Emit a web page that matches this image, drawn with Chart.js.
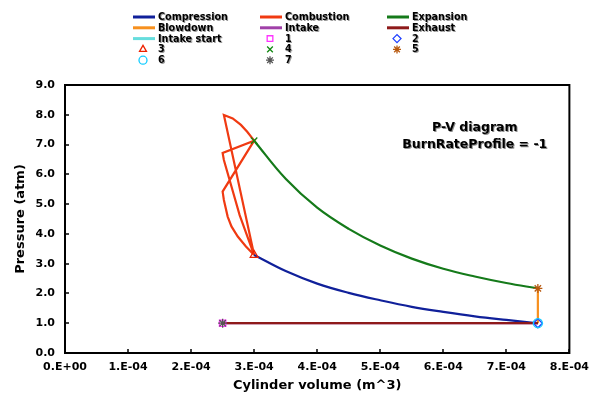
<!DOCTYPE html>
<html lang="en">
<head>
  <meta charset="UTF-8" />
  <title>P-V diagram</title>
  <script src="https://cdn.jsdelivr.net/npm/chart.js"></script>
  <style>
    html, body { margin: 0; padding: 0; background: #fff; }
    #wrap { width: 597px; height: 398px; position: relative; }
  </style>
</head>
<body>
<div id="wrap"><canvas id="pv"></canvas></div>
<script>
  // volumes in m^3, pressures in atm
  const compressionV = [7.5e-4, 7.0e-4, 6.5e-4, 6.0e-4, 5.5e-4, 5.0e-4, 4.5e-4, 4.0e-4, 3.5e-4, 3.0e-4];
  const compressionP = [1.0, 1.11, 1.23, 1.38, 1.55, 1.77, 2.02, 2.33, 2.75, 3.29];

  const combustionV = [3.0e-4, 2.87e-4, 2.74e-4, 2.64e-4, 2.58e-4, 2.52e-4, 2.50e-4, 3.0e-4, 2.50e-4, 2.52e-4, 2.77e-4, 3.0e-4, 2.52e-4, 2.66e-4, 2.79e-4, 2.89e-4, 3.0e-4];
  const combustionP = [3.29, 3.58, 3.91, 4.25, 4.58, 5.14, 5.42, 7.13, 6.72, 6.48, 4.63, 3.29, 7.99, 7.88, 7.66, 7.43, 7.13];

  const expansionV = [3.0e-4, 3.5e-4, 4.0e-4, 4.5e-4, 5.0e-4, 5.5e-4, 6.0e-4, 6.5e-4, 7.0e-4, 7.5e-4];
  const expansionP = [7.13, 5.85, 4.88, 4.17, 3.61, 3.17, 2.83, 2.57, 2.35, 2.17];

  const blowdownV = [7.5e-4, 7.5e-4];
  const blowdownP = [2.17, 1.0];

  const intakeV = [2.5e-4, 7.5e-4];
  const intakeP = [1.0, 1.0];
  const exhaustV = [7.5e-4, 2.5e-4];
  const exhaustP = [1.0, 1.0];
  const intakeStartV = [2.5e-4];
  const intakeStartP = [1.0];

  const pointLabels = ['1', '2', '3', '4', '5', '6', '7'];
  const pointV = [2.5e-4, 7.5e-4, 3.0e-4, 3.0e-4, 7.5e-4, 7.5e-4, 2.5e-4];
  const pointP = [1.0, 1.0, 3.29, 7.13, 2.17, 1.0, 1.0];

  const xTicks = [0, 1e-4, 2e-4, 3e-4, 4e-4, 5e-4, 6e-4, 7e-4, 8e-4];
  const yTicks = [0, 1, 2, 3, 4, 5, 6, 7, 8, 9];

  const FONT = '"DejaVu Sans", Verdana, sans-serif';

  function pts(vs, ps) { return vs.map((v, i) => ({ x: v, y: ps[i] })); }

  function lineSet(label, vs, ps, color, extra) {
    return Object.assign({ label, data: pts(vs, ps), borderColor: color, backgroundColor: color,
      borderWidth: 2.2, pointRadius: 0, showLine: true, tension: 0, isLine: true }, extra || {});
  }

  const pointStyles = [
    { style: 'rect', color: '#ff33ff' },
    { style: 'rectRot', color: '#1f3fff' },
    { style: 'triangle', color: '#ee2200' },
    { style: 'crossRot', color: '#118811' },
    { style: 'star', color: '#b85a10' },
    { style: 'circle', color: '#11ccff' },
    { style: 'star', color: '#555555' }
  ];

  const datasets = [
    lineSet('Compression', compressionV, compressionP, '#10209a', { tension: 0.4 }),
    lineSet('Combustion', combustionV, combustionP, '#f03a12'),
    lineSet('Expansion', expansionV, expansionP, '#157a1a', { tension: 0.4 }),
    lineSet('Blowdown', blowdownV, blowdownP, '#f7901e'),
    lineSet('Intake', intakeV, intakeP, '#a040a8'),
    lineSet('Exhaust', exhaustV, exhaustP, '#8e1a1a', { order: -1 }),
    lineSet('Intake start', intakeStartV, intakeStartP, '#66dddd')
  ];
  pointLabels.forEach((lab, i) => {
    const s = pointStyles[i];
    datasets.push({ label: lab, data: [{ x: pointV[i], y: pointP[i] }], showLine: false,
      pointStyle: s.style, pointRadius: 4.5, borderColor: s.color, borderWidth: 1.3,
      backgroundColor: 'rgba(0,0,0,0)', pointBackgroundColor: 'rgba(0,0,0,0)',
      order: -10 - i, isLine: false });
  });

  function sciLabel(v) {
    if (v === 0) return '0.E+00';
    const e = Math.floor(Math.log10(Math.abs(v)) + 1e-9);
    const m = Math.round(v / Math.pow(10, e));
    const sign = e < 0 ? '-' : '+';
    return m + '.E' + sign + String(Math.abs(e)).padStart(2, '0');
  }

  // grid legend + frame + inside ticks + in-plot title
  const decor = {
    id: 'decor',
    afterDraw(chart) {
      const ctx = chart.ctx;
      const a = chart.chartArea;
      const xs = chart.scales.x, ys = chart.scales.y;
      ctx.save();
      // frame
      ctx.strokeStyle = '#000';
      ctx.lineWidth = 2;
      ctx.strokeRect(a.left, a.top, a.right - a.left, a.bottom - a.top);
      ctx.lineWidth = 1.5;
      xTicks.forEach(t => {
        const px = Math.round(xs.getPixelForValue(t));
        ctx.beginPath(); ctx.moveTo(px, a.bottom); ctx.lineTo(px, a.bottom - 4); ctx.stroke();
      });
      yTicks.forEach(t => {
        const py = Math.round(ys.getPixelForValue(t));
        ctx.beginPath(); ctx.moveTo(a.left, py); ctx.lineTo(a.left + 4, py); ctx.stroke();
      });
      // title inside plot
      ctx.shadowColor = 'rgba(0,0,0,0.45)';
      ctx.shadowOffsetX = 1;
      ctx.shadowOffsetY = 1;
      ctx.fillStyle = '#000';
      ctx.font = 'bold 12.5px ' + FONT;
      ctx.textAlign = 'center';
      ctx.textBaseline = 'middle';
      const tx = xs.getPixelForValue(6.5e-4);
      ctx.fillText('P-V diagram', tx, ys.getPixelForValue(7.55));
      ctx.fillText('BurnRateProfile = -1', tx, ys.getPixelForValue(6.98));
      // legend in 3 columns
      const colX = [133, 260, 387];
      const rowY0 = 17, rowH = 10.8;
      ctx.textAlign = 'left';
      ctx.font = 'bold 9.6px ' + FONT;
      chart.data.datasets.forEach((ds, i) => {
        const cx = colX[i % 3];
        const cy = rowY0 + Math.floor(i / 3) * rowH;
        ctx.shadowColor = 'rgba(0,0,0,0)';
        ctx.strokeStyle = ds.borderColor;
        if (ds.isLine) {
          ctx.lineWidth = 3;
          ctx.beginPath(); ctx.moveTo(cx, cy); ctx.lineTo(cx + 22, cy); ctx.stroke();
        } else {
          ctx.fillStyle = 'rgba(0,0,0,0)';
          ctx.lineWidth = 1.3;
          Chart.helpers.drawPoint(ctx, { pointStyle: ds.pointStyle, radius: 4, borderWidth: 1.3, rotation: 0 }, cx + 10, cy);
        }
        ctx.shadowColor = 'rgba(0,0,0,0.4)';
        ctx.fillStyle = '#000';
        ctx.fillText(ds.label, cx + 25, cy + 0.5);
      });
      ctx.restore();
    }
  };

  new Chart(document.getElementById('pv'), {
    type: 'scatter',
    data: { datasets },
    options: {
      responsive: true,
      maintainAspectRatio: false,
      animation: false,
      layout: { padding: { left: 0, right: 21, top: 85, bottom: 0 } },
      plugins: { legend: { display: false }, tooltip: { enabled: false } },
      scales: {
        x: {
          type: 'linear', min: 0, max: 8e-4,
          afterBuildTicks: s => { s.ticks = xTicks.map(v => ({ value: v })); },
          afterFit: s => { s.height = 45; },
          grid: { display: false, drawTicks: false },
          border: { display: false },
          ticks: { color: '#000', font: { family: FONT, size: 11, weight: 'bold' }, padding: 8,
            maxRotation: 0, autoSkip: false, callback: v => sciLabel(v) },
          title: { display: true, text: 'Cylinder volume (m^3)', color: '#000',
            font: { family: FONT, size: 13, weight: 'bold' }, padding: { top: 2, bottom: 5 } }
        },
        y: {
          type: 'linear', min: 0, max: 9,
          afterBuildTicks: s => { s.ticks = yTicks.map(v => ({ value: v })); },
          afterFit: s => { s.width = 65; },
          grid: { display: false, drawTicks: false },
          border: { display: false },
          ticks: { color: '#000', font: { family: FONT, size: 11, weight: 'bold' }, padding: 10,
            callback: v => v.toFixed(1) },
          title: { display: true, text: 'Pressure (atm)', color: '#000',
            font: { family: FONT, size: 13, weight: 'bold' }, padding: { top: 13, bottom: 0 } }
        }
      }
    },
    plugins: [decor]
  });
</script>
</body>
</html>
